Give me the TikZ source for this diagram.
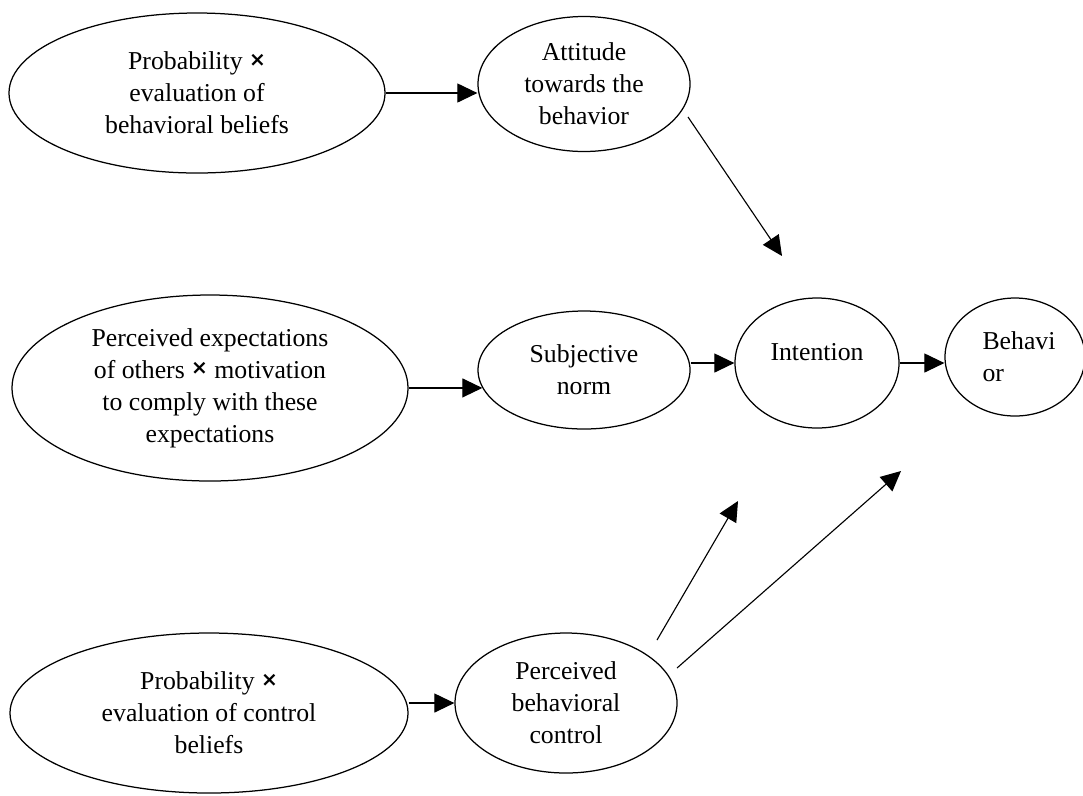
\documentclass[tikz,border=0pt]{standalone}
\usepackage{fontspec}
\setmainfont{Liberation Serif}
\newfontfamily\symfont{DejaVu Sans}
\usetikzlibrary{shapes.geometric,arrows.meta}
\newcommand{\tims}{\raisebox{1.5pt}{\symfont\bfseries\fontsize{8}{8}\selectfont ×}}

\begin{document}
\begin{tikzpicture}[x=0.4pt, y=-0.4pt, every node/.style={font=\fontsize{10.3}{12.8}\selectfont, align=center}, oval/.style 2 args={ellipse, draw, line width=0.5pt, inner sep=0pt, minimum width=#1*0.4pt, minimum height=#2*0.4pt}, link/.style={->, line width=0.45pt}, >={Triangle[length=8pt, width=7.6pt]}]
	\useasboundingbox (0,0) rectangle (1083,795);
	% left column: beliefs
	\node[oval={376}{160}] (bb) at (197,93) {Probability \tims\\evaluation of\\behavioral beliefs};
	\node[oval={396}{186}] (nb) at (210,388) {Perceived expectations\\of others \tims\ motivation\\to comply with these\\expectations};
	\node[oval={398}{160}] (cb) at (209,713) {Probability \tims\\evaluation of control\\beliefs};
	% middle column
	\node[oval={212}{135}] (att) at (584,84) {Attitude\\towards the\\behavior};
	\node[oval={212}{118}] (sn) at (584,370) {Subjective\\norm};
	\node[oval={222}{140}] (pbc) at (566,703) {Perceived\\behavioral\\control};
	% right side
	\node[oval={164}{130}] (int) at (817,363) {};
	\node (intT) at (817,352) {Intention};
	\node[oval={140}{118}] (beh) at (1015,357) {};
	\node[align=left, anchor=west, inner sep=0pt] (behT) at (982,357) {Behavi\\or};
	% free ends of the slanted arrows
	\coordinate (attS) at (688,117);
	\coordinate (attT) at (782,256);
	\coordinate (pbcS1) at (657,640);
	\coordinate (pbcT1) at (738,501);
	\coordinate (pbcS2) at (677,668);
	\coordinate (pbcT2) at (901,471);
	% arrows
	\draw[link] (bb.east) -- (bb.east -| att.west);
	\draw[link] (sn.190 -| nb.east) -- (sn.190);
	\draw[link] (cb.east |- pbc.west) -- (pbc.west);
	\draw[link] (sn.east |- int.west) -- (int.west);
	\draw[link] (int.east) -- (int.east -| beh.west);
	\draw[link] (attS) -- (attT);
	\draw[link] (pbcS1) -- (pbcT1);
	\draw[link] (pbcS2) -- (pbcT2);
\end{tikzpicture}
\end{document}
